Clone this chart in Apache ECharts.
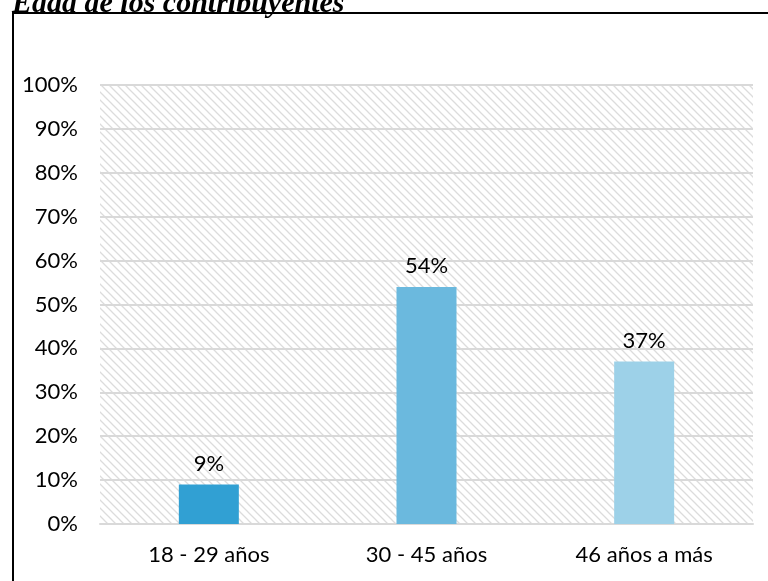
<!DOCTYPE html>
<html><head><meta charset="utf-8">
<script src="https://cdn.jsdelivr.net/npm/echarts@6/dist/echarts.min.js"></script>
<style>html,body{margin:0;padding:0;background:#fff}#c{width:768px;height:581px}</style>
</head><body><div id="c"></div>
<script>
const categories = ['18 - 29 años', '30 - 45 años', '46 años a más'];
const values = [9, 54, 37];
const barColors = ['#31A0D3', '#6BB9DE', '#9DD1E8'];
const titleText = 'Edad de los contribuyentes';

function hatch() {
  const s = 8;
  const c = document.createElement('canvas');
  c.width = s; c.height = s;
  const g = c.getContext('2d');
  g.fillStyle = '#fff'; g.fillRect(0, 0, s, s);
  g.strokeStyle = '#DCDCDC'; g.lineWidth = 1.3;
  g.beginPath();
  g.moveTo(-1, -1); g.lineTo(s + 1, s + 1);
  g.moveTo(-1, s - 1); g.lineTo(1, s + 1);
  g.moveTo(s - 1, -1); g.lineTo(s + 1, 1);
  g.stroke();
  return c;
}

const font = 'Lato, "Open Sans", sans-serif';
const chart = echarts.init(document.getElementById('c'));
chart.setOption({
  animation: false,
  graphic: [
    { type: 'rect', shape: { x: 13, y: 13, width: 800, height: 600 }, style: { fill: 'none', stroke: '#000', lineWidth: 2 } },
    { type: 'text', x: 12, y: 19, style: { text: titleText, verticalAlign: 'bottom', font: 'italic bold 30px "Liberation Serif", serif', fill: '#000' } }
  ],
  grid: { left: 100, right: 15, top: 85, bottom: 57, show: true, borderWidth: 0,
    backgroundColor: { image: hatch(), repeat: 'repeat' } },
  xAxis: {
    type: 'category', data: categories,
    axisLine: { lineStyle: { color: '#D9D9D9', width: 2 } },
    axisTick: { show: false },
    axisLabel: { color: '#000', fontSize: 22, fontFamily: font, margin: 20 }
  },
  yAxis: {
    type: 'value', min: 0, max: 100, interval: 10,
    axisLine: { show: false }, axisTick: { show: false },
    splitLine: { lineStyle: { color: '#D9D9D9', width: 2 } },
    axisLabel: { color: '#000', fontSize: 22, fontFamily: font, margin: 22, formatter: '{value}%' }
  },
  series: [{
    type: 'bar', barWidth: 60,
    data: values.map((v, i) => ({ value: v, itemStyle: { color: barColors[i] } })),
    label: { show: true, position: 'top', distance: 10, color: '#000', fontSize: 22, fontFamily: font, formatter: '{c}%' }
  }]
});
</script></body></html>
